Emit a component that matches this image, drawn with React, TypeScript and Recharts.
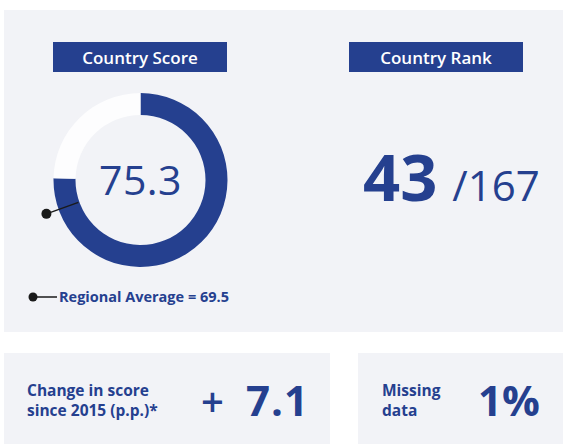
import { PieChart, Pie, Cell } from 'recharts';

const scoreNames = ['Country Score', 'Remaining'];
const scoreValues = [75.3, 24.7];
const regionalValues = [69.5, 30.5];
const rankValue = 43;
const rankTotal = 167;
const scoreChange = 7.1;
const missingShare = 1;

const NAVY = '#25408f';
const PANEL = '#f2f3f7';
const FONT = '"Open Sans", "Noto Sans", sans-serif';
const RADIAN = Math.PI / 180;

const scoreData = scoreNames.map((name, i) => ({ name, value: scoreValues[i] }));
const regionalData = scoreNames.map((name, i) => ({ name, value: regionalValues[i] }));

// score value in the middle of the ring
const renderCenter = (props: any) => {
  if (props.index !== 0) return null;
  return (
    <text
      x={props.cx}
      y={props.cy + 15}
      textAnchor="middle"
      fill={NAVY}
      style={{ fontSize: 41, fontFamily: FONT, fontWeight: 500, letterSpacing: 0.5 }}
    >
      {scoreValues[0].toFixed(1)}
    </text>
  );
};

// marker for regional average, drawn at the end angle of the first (hidden) sector
const renderMarker = (props: any) => {
  if (props.index !== 0) return null;
  const { cx, cy, endAngle } = props;
  const p = (r: number) => ({
    x: cx + r * Math.cos(-endAngle * RADIAN),
    y: cy + r * Math.sin(-endAngle * RADIAN),
  });
  const a = p(66);
  const b = p(100);
  return (
    <g>
      <line x1={a.x} y1={a.y} x2={b.x} y2={b.y} stroke="#1a1a1a" strokeWidth={1.5} />
      <circle cx={b.x} cy={b.y} r={5} fill="#1a1a1a" />
    </g>
  );
};

const box = (left: number, top: number, width: number, height: number): React.CSSProperties => ({
  position: 'absolute',
  left,
  top,
  width,
  height,
  background: PANEL,
});

export default function App() {
  return (
    <div style={{ position: 'absolute', left: 0, top: 0, width: 563, height: 444, background: '#fff', fontFamily: FONT, color: NAVY, overflow: 'hidden' }}>
      <div style={box(4, 10, 559, 322)} />
      <div style={box(4, 353, 326, 91)} />
      <div style={box(358, 353, 205, 91)} />

      {[{ label: 'Country Score', left: 53 }, { label: 'Country Rank', left: 349 }].map((h) => (
        <div
          key={h.label}
          style={{
            position: 'absolute', left: h.left, top: 42, width: 174, height: 30, background: NAVY, color: '#fff',
            fontSize: 17, fontWeight: 600, display: 'flex', alignItems: 'center', justifyContent: 'center', lineHeight: 1,
          }}
        >
          {h.label}
        </div>
      ))}

      <div style={{ position: 'absolute', left: 0, top: 0 }}>
        <PieChart width={260} height={280} margin={{ top: 0, right: 0, bottom: 0, left: 0 }}>
          <Pie
            data={scoreData}
            dataKey="value"
            cx={140.5}
            cy={180}
            innerRadius={65}
            outerRadius={87}
            startAngle={90}
            endAngle={-270}
            stroke="none"
            label={renderCenter}
            labelLine={false}
            isAnimationActive={false}
          >
            <Cell fill={NAVY} />
            <Cell fill="#fdfdfe" />
          </Pie>
          <Pie
            data={regionalData}
            dataKey="value"
            cx={140.5}
            cy={180}
            innerRadius={65}
            outerRadius={87}
            startAngle={90}
            endAngle={-270}
            fill="none"
            stroke="none"
            label={renderMarker}
            labelLine={false}
            isAnimationActive={false}
          />
        </PieChart>
      </div>

      <div style={{ position: 'absolute', left: 363, top: 144, display: 'flex', alignItems: 'baseline', whiteSpace: 'nowrap' }}>
        <span style={{ fontSize: 65, fontWeight: 700, lineHeight: 1 }}>{rankValue}</span>
        <span style={{ fontSize: 42, fontWeight: 400, lineHeight: 1, marginLeft: 15 }}>/{rankTotal}</span>
      </div>

      <svg style={{ position: 'absolute', left: 26, top: 290 }} width={34} height={14}>
        <circle cx={7} cy={7} r={4.5} fill="#1a1a1a" />
        <line x1={7} y1={7} x2={31} y2={7} stroke="#1a1a1a" strokeWidth={1.5} />
      </svg>
      <div style={{ position: 'absolute', left: 59, top: 287, fontSize: 14.5, fontWeight: 700, whiteSpace: 'nowrap', lineHeight: '20px' }}>
        Regional Average = {regionalValues[0]}
      </div>

      <div style={{ position: 'absolute', left: 27, top: 380, fontSize: 15.5, fontWeight: 700, lineHeight: '20px', whiteSpace: 'nowrap' }}>
        Change in score<br />since 2015 (p.p.)*
      </div>
      <div style={{ position: 'absolute', left: 201, top: 376, fontSize: 40, fontWeight: 600, lineHeight: '50px' }}>+</div>
      <div style={{ position: 'absolute', left: 246, top: 375, fontSize: 42, fontWeight: 700, lineHeight: '50px', letterSpacing: 1, whiteSpace: 'nowrap' }}>
        {scoreChange}
      </div>

      <div style={{ position: 'absolute', left: 382, top: 380, fontSize: 15.5, fontWeight: 700, lineHeight: '20px' }}>
        Missing<br />data
      </div>
      <div style={{ position: 'absolute', left: 478, top: 374, fontSize: 42, fontWeight: 700, lineHeight: '52px', whiteSpace: 'nowrap' }}>
        {missingShare}%
      </div>
    </div>
  );
}
